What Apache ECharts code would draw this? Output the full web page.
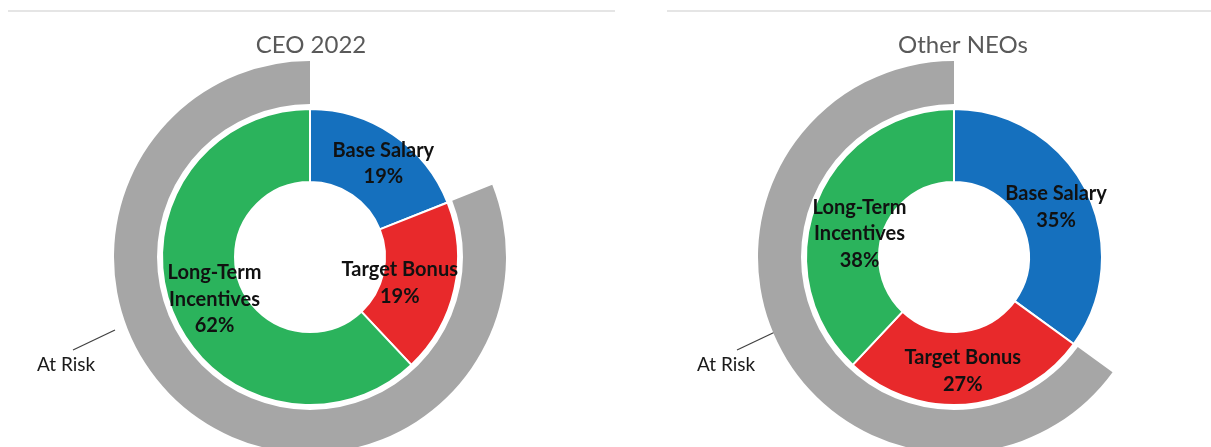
<!DOCTYPE html>
<html>
<head>
<meta charset="utf-8">
<script src="https://cdn.jsdelivr.net/npm/echarts@6/dist/echarts.min.js"></script>
<style>
html,body{margin:0;padding:0;background:#fff;}
#chart{width:1211px;height:447px;}
</style>
</head>
<body>
<div id="chart"></div>
<script>
// ---- data ----
const categories = ['Base Salary', 'Target Bonus', 'Long-Term\nIncentives'];
const ceoValues = [19, 19, 62];
const neoValues = [35, 27, 38];
const panelTitles = ['CEO 2022', 'Other NEOs'];
const atRiskLabel = 'At Risk';

// ---- style ----
const colors = ['#1570be', '#e8292b', '#2bb35c'];
const ringGray = '#a6a6a6';
const font = 'Lato, "Noto Sans", sans-serif';

const chart = echarts.init(document.getElementById('chart'), null, {renderer: 'canvas'});

const centers = [[310, 257], [954, 257]];
// label nudges (px) to mimic original label placement
const nudges = [
  [[9, 1], [-22, 1], [11, 0]],
  [[0, 2], [-2, 0], [12, 19]]
];

function innerSeries(values, idx) {
  return {
    type: 'pie',
    center: centers[idx],
    radius: [75, 148],
    startAngle: 90,
    clockwise: true,
    silent: true,
    animation: false,
    itemStyle: {borderColor: '#fff', borderWidth: 2},
    label: {
      show: true,
      position: 'inside',
      fontFamily: font,
      fontWeight: 'bold',
      fontSize: 20,
      lineHeight: 26.5,
      color: '#111',
      formatter: p => p.name + '\n' + p.value + '%'
    },
    labelLine: {show: false},
    labelLayout: p => ({dx: nudges[idx][p.dataIndex][0], dy: nudges[idx][p.dataIndex][1]}),
    data: values.map((v, i) => ({name: categories[i], value: v, itemStyle: {color: colors[i]}}))
  };
}

function ringSeries(values, idx) {
  const fixed = values[0];
  const atRisk = values[1] + values[2];
  return {
    type: 'pie',
    center: centers[idx],
    radius: [153, 196],
    startAngle: 90,
    clockwise: true,
    silent: true,
    animation: false,
    label: {show: false},
    labelLine: {show: false},
    data: [
      {name: 'fixed', value: fixed, itemStyle: {color: 'rgba(0,0,0,0)'}},
      {name: atRiskLabel, value: atRisk, itemStyle: {color: ringGray}}
    ]
  };
}

const titleX = [306, 958];
const option = {
  backgroundColor: '#fff',
  animation: false,
  title: panelTitles.map((t, i) => ({
    text: t,
    left: titleX[i],
    top: 28,
    textAlign: 'center',
    textStyle: {fontFamily: font, fontWeight: 'normal', fontSize: 24, color: '#595959'}
  })),
  graphic: [
    {type: 'line', shape: {x1: 8, y1: 11, x2: 615, y2: 11}, style: {stroke: '#dcdcdc', lineWidth: 1.5}},
    {type: 'line', shape: {x1: 667, y1: 11, x2: 1211, y2: 11}, style: {stroke: '#dcdcdc', lineWidth: 1.5}},
    {type: 'line', shape: {x1: 73, y1: 350, x2: 115, y2: 330}, style: {stroke: '#404040', lineWidth: 1.2}},
    {type: 'text', x: 37, y: 365, style: {text: atRiskLabel, fontFamily: font, fontSize: 19, fill: '#1a1a1a', textVerticalAlign: 'middle'}},
    {type: 'line', shape: {x1: 737, y1: 350, x2: 775, y2: 332}, style: {stroke: '#404040', lineWidth: 1.2}},
    {type: 'text', x: 697, y: 365, style: {text: atRiskLabel, fontFamily: font, fontSize: 19, fill: '#1a1a1a', textVerticalAlign: 'middle'}}
  ],
  series: [
    ringSeries(ceoValues, 0),
    innerSeries(ceoValues, 0),
    ringSeries(neoValues, 1),
    innerSeries(neoValues, 1)
  ]
};
chart.setOption(option);
</script>
</body>
</html>
